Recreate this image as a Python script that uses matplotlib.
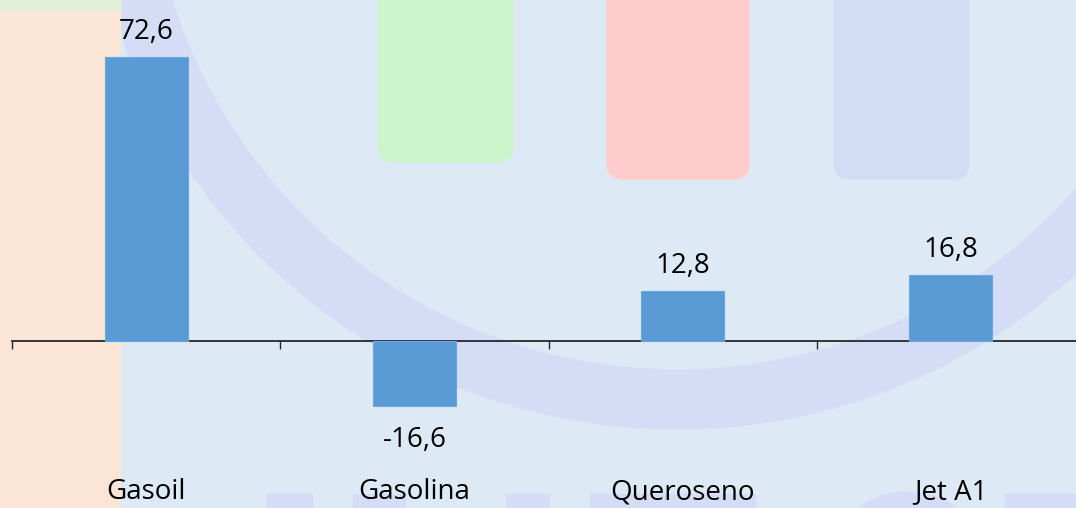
import matplotlib.pyplot as plt
import matplotlib.transforms as mtransforms
from matplotlib.patches import Rectangle, FancyBboxPatch, Wedge, Ellipse

plt.rcParams['font.family'] = ['Open Sans', 'DejaVu Sans']

categories = ['Gasoil', 'Gasolina', 'Queroseno', 'Jet A1']
values = [72.6, -16.6, 12.8, 16.8]
value_labels = ['72,6', '-16,6', '12,8', '16,8']

W, H = 1076, 508
fig = plt.figure(figsize=(W / 100, H / 100), dpi=100)

# background watermark (decorative picture behind the chart)
bg = fig.add_axes([0, 0, 1, 1])
bg.set_xlim(0, W)
bg.set_ylim(H, 0)
bg.axis('off')
bg.add_patch(Rectangle((0, 0), W, H, color='#dee9f6', zorder=0))
bg.add_patch(Wedge((677, -160), 589, 0, 360, width=59, color='#d5ddf6', zorder=1))
bg.add_patch(Rectangle((0, 10), 120, H, color='#fbe5d6', zorder=2))
bg.add_patch(Rectangle((0, -5), 120, 15, color='#e2efd9', zorder=2))
for x0, x1, y1, c in [(378, 513, 162, '#ccf5cc'), (607, 749, 179, '#ffcccc'),
                      (834, 969, 179, '#d3dcf5')]:
    bg.add_patch(FancyBboxPatch((x0, -40), x1 - x0, y1 + 40,
                                boxstyle='round,pad=0,rounding_size=16',
                                color=c, zorder=2))
for x0, x1 in [(267, 312), (353, 405), (506, 549), (590, 755), (1005, 1076)]:
    bg.add_patch(Rectangle((x0, 494), x1 - x0, 30, color='#d5ddf6', zorder=2))
bg.add_patch(Ellipse((908, 580), 172, 176, color='#d5ddf6', zorder=2))

# chart
ax = fig.add_axes([12 / W, 0, 1073 / W, 1])
ax.patch.set_alpha(0)
px = 3.915  # pixels per unit
ax.set_xlim(-0.5, 3.5)
ax.set_ylim(-(H - 341) / px, 341 / px)

x = list(range(len(categories)))
bars = ax.bar(x, values, width=0.31, color='#5b9bd5', edgecolor='#6aa5db',
              linewidth=0.8, zorder=3)

for xi, v, lab in zip(x, values, value_labels):
    off = 18 if v >= 0 else -41
    ax.annotate(lab, (xi, v), xytext=(0, off), textcoords='offset pixels',
                ha='center', va='baseline', fontsize=20, color='#000000')

for s in ['top', 'right', 'left']:
    ax.spines[s].set_visible(False)
ax.spines['bottom'].set_position(('data', 0))
ax.spines['bottom'].set_color('#262626')
ax.spines['bottom'].set_linewidth(1.3)
ax.set_yticks([])
ax.set_xticks([-0.5, 0.5, 1.5, 2.5, 3.5])
ax.set_xticklabels([])
ax.tick_params(axis='x', direction='out', length=6, width=1, color='#262626')

trans = mtransforms.blended_transform_factory(ax.transData, fig.transFigure)
for xi, c in zip(x, categories):
    ax.text(xi, 9 / H, c, transform=trans, ha='center', va='baseline',
            fontsize=20, color='#000000')

fig.savefig('out.png', dpi=100)
